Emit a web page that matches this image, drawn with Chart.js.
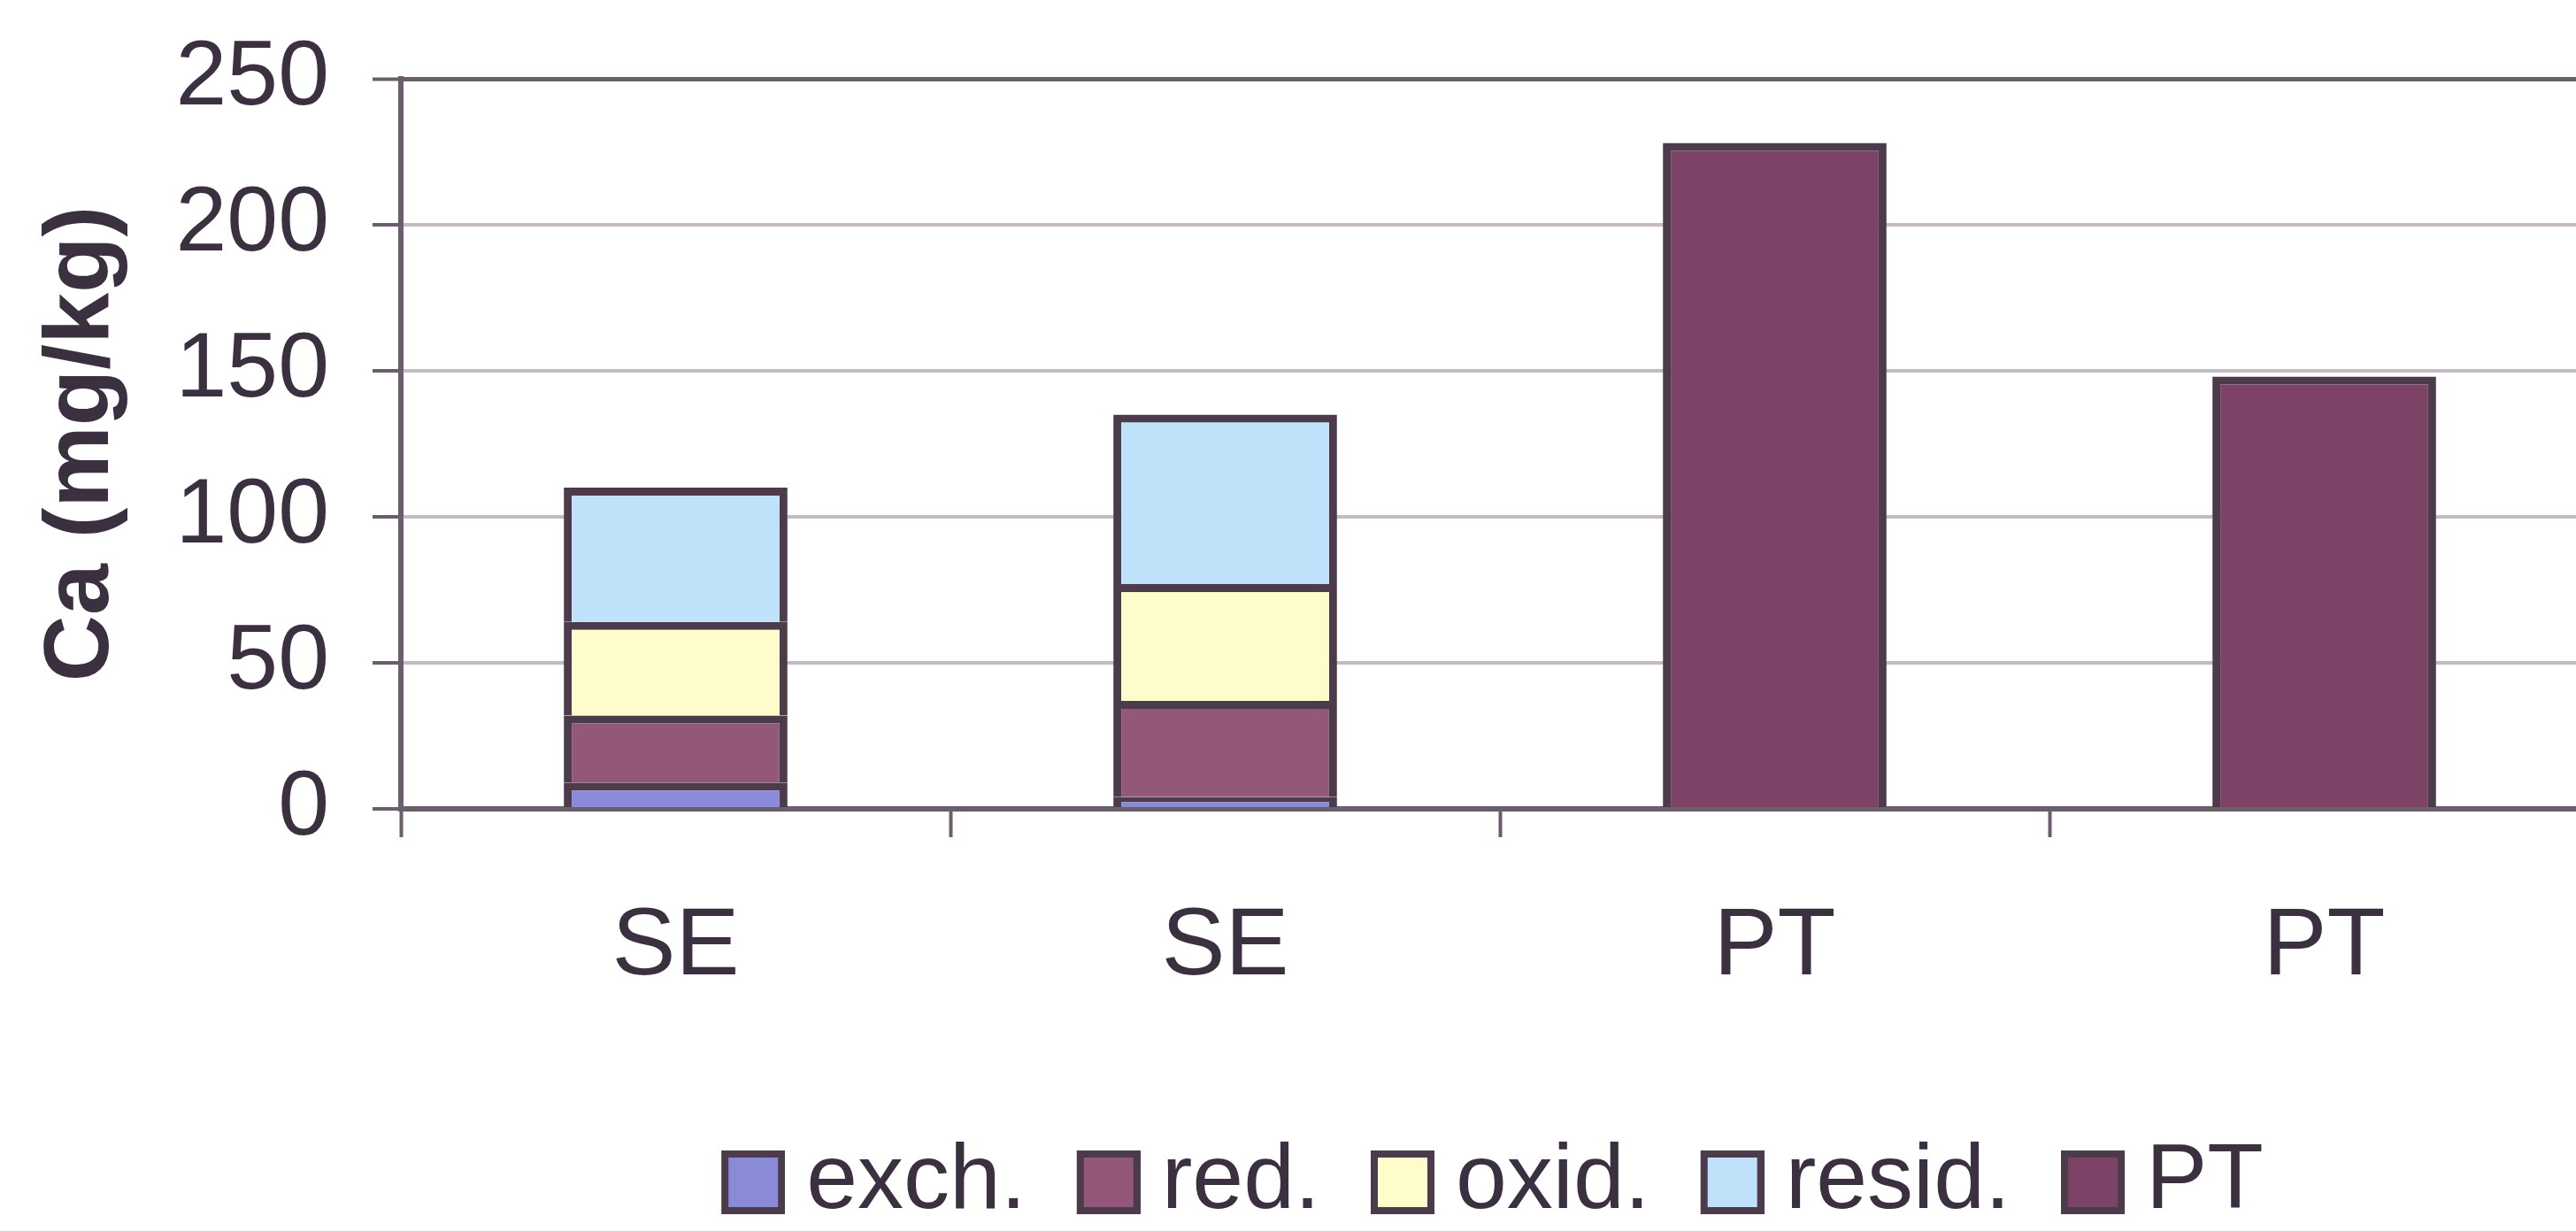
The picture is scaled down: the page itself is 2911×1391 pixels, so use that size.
<!DOCTYPE html>
<html>
<head>
<meta charset="utf-8">
<title>Ca fractions</title>
<script src="https://cdn.jsdelivr.net/npm/chart.js@4/dist/chart.umd.min.js"></script>
<style>
  html, body { margin: 0; padding: 0; background: #ffffff; overflow: hidden; }
  #wrap { width: 2960px; height: 1391px; }
</style>
</head>
<body>
<div id="wrap"><canvas id="chart" width="2960" height="1391"></canvas></div>
<script>
// Sample categories along the x axis
const categories = ['SE', 'SE', 'PT', 'PT'];

// Sequential-extraction fractions (mg/kg), stacked on the SE columns
const exch  = [9, 4, null, null];
const red   = [23, 33, null, null];
const oxid  = [32, 40, null, null];
const resid = [46, 58, null, null];

// Pseudo-total digestion (mg/kg)
const pt    = [null, null, 228, 148];

// Value-axis ticks
const yTicks = [0, 50, 100, 150, 200, 250];

const seriesNames = ['exch.', 'red.', 'oxid.', 'resid.', 'PT'];
const fills = ['#8a8ad8', '#935879', '#fffccc', '#c0e1fa', '#7d4366'];
const outline = '#4b3b4b';
const ink = '#3b3040';
const axisDark = '#6a5d6c';
const gridLight = '#c4bac4';
const FONT = '"Liberation Sans", Arial, Helvetica, sans-serif';

// Legend swatch: square with dark outline, placed at the right of a wider transparent tile
const SW_BOX = 72, SW_TILE = 147;
function makeSwatch(color) {
  const c = document.createElement('canvas');
  c.width = SW_TILE; c.height = SW_BOX;
  const g = c.getContext('2d');
  g.fillStyle = color;
  g.fillRect(SW_TILE - SW_BOX, 0, SW_BOX, SW_BOX);
  g.strokeStyle = outline;
  g.lineWidth = 8;
  g.strokeRect(SW_TILE - SW_BOX + 4, 4, SW_BOX - 8, SW_BOX - 8);
  return c;
}
const swatches = fills.map(makeSwatch);

const seriesData = [exch, red, oxid, resid, pt];
const datasets = seriesData.map((d, i) => ({
  label: seriesNames[i],
  data: d,
  backgroundColor: fills[i],
  borderColor: outline,
  borderWidth: 9,
  stack: 'all'
}));

// Place the legend under the plotting area
const legendUnderPlot = {
  id: 'legendUnderPlot',
  afterLayout(chart) {
    const lg = chart.legend, a = chart.chartArea;
    lg.left = a.left - 32;
    lg.right = a.right - 32;
    lg.width = lg.right - lg.left;
    lg.top += 13;
    lg.bottom += 13;
  }
};

const whiteBg = {
  id: 'whiteBg',
  beforeDraw(chart) {
    const ctx = chart.ctx;
    ctx.save();
    ctx.fillStyle = '#ffffff';
    ctx.fillRect(0, 0, chart.width, chart.height);
    ctx.restore();
  }
};

Chart.defaults.font.family = FONT;
Chart.defaults.font.size = 104;
Chart.defaults.color = ink;

new Chart(document.getElementById('chart'), {
  type: 'bar',
  data: { labels: categories, datasets },
  plugins: [whiteBg, legendUnderPlot],
  options: {
    responsive: false,
    animation: false,
    devicePixelRatio: 1,
    layout: { padding: { top: 89, right: 23, bottom: 6, left: 0 } },
    datasets: {
      bar: { categoryPercentage: 0.407, barPercentage: 1.0 }
    },
    plugins: {
      tooltip: { enabled: false },
      legend: {
        position: 'bottom',
        align: 'center',
        labels: {
          usePointStyle: true,
          pointStyleWidth: 91,
          padding: 10,
          color: ink,
          font: { size: 104, family: FONT },
          generateLabels(chart) {
            const items = Chart.defaults.plugins.legend.labels.generateLabels(chart);
            items.forEach(it => { it.pointStyle = swatches[it.datasetIndex]; });
            return items;
          }
        }
      }
    },
    scales: {
      x: {
        stacked: true,
        afterFit(scale) { scale.height = 347; },
        border: { display: true, color: axisDark, width: 6 },
        grid: {
          display: true,
          offset: true,
          drawOnChartArea: false,
          drawTicks: true,
          tickLength: 32,
          tickColor: axisDark,
          tickWidth: 4
        },
        ticks: {
          padding: 60,
          color: ink,
          font: { size: 108, family: FONT },
          maxRotation: 0
        }
      },
      y: {
        stacked: true,
        min: 0,
        max: 250,
        afterFit(scale) {
          scale.width = 453;
          scale.paddingTop = 0;
        },
        afterBuildTicks(scale) { scale.ticks = yTicks.map(v => ({ value: v })); },
        border: { display: true, color: axisDark, width: 6 },
        grid: {
          display: true,
          drawTicks: true,
          tickLength: 32,
          tickColor: axisDark,
          tickWidth: 4,
          color: ctx => (ctx.tick && (ctx.tick.value === 250 || ctx.tick.value === 0)) ? axisDark : gridLight,
          lineWidth: ctx => (ctx.tick && ctx.tick.value === 250) ? 5 : 4
        },
        ticks: {
          padding: 49,
          color: ink,
          font: { size: 104, family: FONT }
        },
        title: {
          display: true,
          text: 'Ca (mg/kg)',
          color: ink,
          font: { size: 104, weight: 'bold', family: FONT },
          padding: { top: 31, bottom: 20 }
        }
      }
    }
  }
});
</script>
</body>
</html>
